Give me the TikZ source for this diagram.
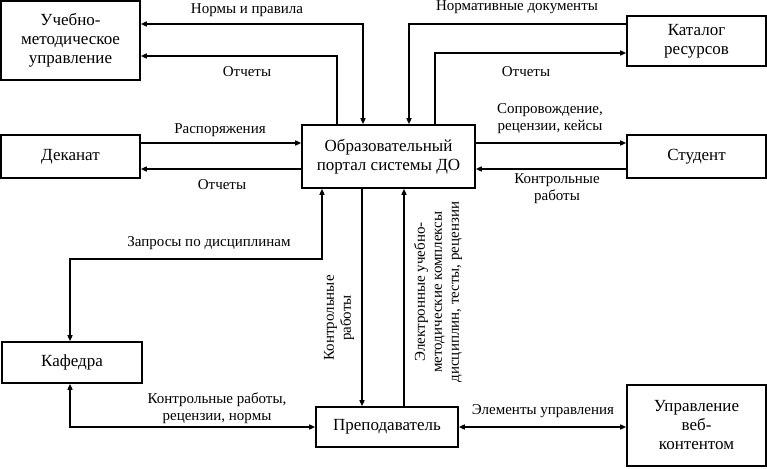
\documentclass[tikz,border=0pt]{standalone}
\usepackage{fontspec}
\setmainfont{Liberation Serif}
\usetikzlibrary{arrows.meta}
\begin{document}
\begin{tikzpicture}[x=1pt,y=-1pt,
  box/.style={draw,line width=1.6pt,rectangle,inner sep=0pt,align=center,font=\fontsize{17}{19}\selectfont},
  lbl/.style={inner sep=0pt,align=center,font=\fontsize{15}{17}\selectfont},
  conn/.style={line width=1.4pt,-{Triangle[length=6pt,width=5pt]}},
  conn2/.style={line width=1.4pt,{Triangle[length=6pt,width=5pt]}-{Triangle[length=6pt,width=5pt]}}]
\useasboundingbox (0,0) rectangle (767,468);
% boxes
\node[box,minimum width=139pt,minimum height=79pt] (umu) at (70.5,40.5) {Учебно-\\методическое\\управление};
\node[box,minimum width=139pt,minimum height=43pt] (dek) at (70.5,156.5) {Деканат};
\node[box,minimum width=173pt,minimum height=63pt] (portal) at (388.5,156.5) {Образовательный\\портал системы ДО};
\node[box,minimum width=139pt,minimum height=50pt] (kat) at (696.5,41) {Каталог\\ресурсов};
\node[box,minimum width=139pt,minimum height=43pt] (stud) at (696.5,156.5) {Студент};
\node[box,minimum width=140pt,minimum height=41pt] (kaf) at (72,362.5) {Кафедра};
\node[box,minimum width=142pt,minimum height=40pt] (prep) at (387,427) {Преподаватель};
\node[box,minimum width=139pt,minimum height=81pt] (upr) at (696.5,425.5) {Управление\\веб-\\контентом};
% connectors
\draw[conn2] (umu.east |- 0,24) -| (portal.north -| 363,0);
\draw[conn] (portal.north -| 337,0) |- (umu.east |- 0,56);
\draw[conn] (kat.west |- 0,24) -| (portal.north -| 409,0);
\draw[conn] (portal.north -| 435,0) |- (kat.west |- 0,53);
\draw[conn] (dek.east |- 0,143) -- (portal.west |- 0,143);
\draw[conn] (portal.west |- 0,169) -- (dek.east |- 0,169);
\draw[conn] (portal.east |- 0,143) -- (stud.west |- 0,143);
\draw[conn] (stud.west |- 0,169) -- (portal.east |- 0,169);
\draw[conn2] (kaf.north -| 70,0) |- (322,259) -- (portal.south -| 322,0);
\draw[conn] (portal.south -| 362,0) -- (prep.north -| 362,0);
\draw[conn] (prep.north -| 404,0) -- (portal.south -| 404,0);
\draw[conn2] (kaf.south -| 70,0) |- (prep.west);
\draw[conn2] (prep.east) -- (upr.west |- prep.east);
% labels
\node[lbl] (l1) at (247,10) {Нормы и правила};
\node[lbl] (l2) at (247,72) {Отчеты};
\node[lbl] (l3) at (220,130) {Распоряжения};
\node[lbl] (l4) at (222,185) {Отчеты};
\node[lbl] (l5) at (517,7) {Нормативные документы};
\node[lbl] (l6) at (526,72) {Отчеты};
\node[lbl] (l7) at (550,119) {Сопровождение,\\рецензии, кейсы};
\node[lbl] (l8) at (557,189) {Контрольные\\работы};
\node[lbl] (l9) at (209,243) {Запросы по дисциплинам};
\node[lbl,rotate=90] (l10) at (339,318) {Контрольные\\работы};
\node[lbl,rotate=90] (l11) at (438,292) {Электронные учебно-\\методические комплексы\\дисциплин, тесты, рецензии};
\node[lbl] (l12) at (217,408.5) {Контрольные работы,\\рецензии, нормы};
\node[lbl] (l13) at (543,411) {Элементы управления};
\end{tikzpicture}
\end{document}
